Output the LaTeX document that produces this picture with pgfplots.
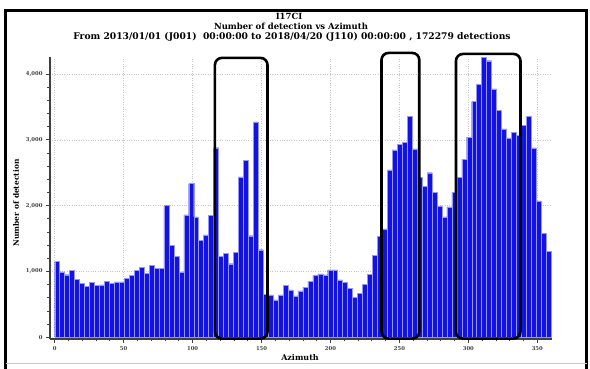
\documentclass[border=0pt]{standalone}
\usepackage{fontspec}
\setmainfont{DejaVu Serif}
\usepackage{pgfplots}
\pgfplotsset{compat=1.18}
\definecolor{barblue}{RGB}{18,18,226}
\definecolor{baredge}{RGB}{150,150,245}
\begin{document}
\begin{tikzpicture}
\useasboundingbox (0bp,0bp) rectangle (590bp,369bp);
\fill[white] (0bp,0bp) rectangle (590bp,369bp);
\draw[line width=2.8bp] (5.5bp,0bp) -- (5.5bp,358.5bp) -- (586.5bp,358.5bp) -- (586.5bp,0bp);
\draw[black!20, line width=0.6bp] (5.5bp,6bp) -- (586.5bp,6bp);
\begin{axis}[
  at={(50bp,30.1bp)}, anchor=south west,
  scale only axis, width=501.8bp, height=282bp,
  xmin=-3.4, xmax=360.5, ymin=-25, ymax=4260,
  axis x line*=bottom, axis y line*=left,
  axis line style={line width=1.3bp, draw=black!75},
  xtick={0,50,...,350}, minor x tick num=4,
  ytick={0,1000,2000,3000,4000}, minor y tick num=4,
  tick align=outside, major tick length=4bp, minor tick length=2.5bp,
  tick style={line width=0.8bp, black!75},
  grid=major, major grid style={dotted, black!22, line width=0.6bp},
  ticklabel style={font=\fontsize{5.3}{6}\selectfont\bfseries, text=black!75},
  /pgf/number format/assume math mode=true,
  /pgf/number format/1000 sep={,},
  scaled y ticks=false,
  clip=false,
  ybar, bar width=3.6,
]
\addplot[fill=barblue, draw=baredge, line width=0.35bp] coordinates {
(1.8,1150) (5.4,995) (9.0,950) (12.6,1015) (16.2,880) (19.8,815) (23.4,775) (27.0,835) (30.6,787) (34.2,795)
(37.8,850) (41.4,815) (45.0,840) (48.6,843) (52.2,900) (55.8,942) (59.4,1020) (63.0,1058) (66.6,970) (70.2,1090)
(73.8,1051) (77.4,1046) (81.0,2000) (84.6,1400) (88.2,1230) (91.8,995) (95.4,1860) (99.0,2335) (102.6,1830) (106.2,1470)
(109.8,1555) (113.4,1850) (117.0,2880) (120.6,1228) (124.2,1279) (127.8,1117) (131.4,1289) (135.0,2436) (138.6,2689) (142.2,1543)
(145.8,3273) (149.4,1330) (153.0,650) (156.6,645) (160.2,569) (163.8,645) (167.4,792) (171.0,721) (174.6,629) (178.2,706)
(181.8,761) (185.4,848) (189.0,939) (192.6,964) (196.2,949) (199.8,1025) (203.4,1025) (207.0,873) (210.6,832) (214.2,746)
(217.8,609) (221.4,670) (225.0,802) (228.6,959) (232.2,1244) (235.8,1533) (239.4,1645) (243.0,2545) (246.6,2848) (250.2,2929)
(253.8,2965) (257.4,3354) (261.0,2864) (264.6,2434) (268.2,2298) (271.8,2500) (275.4,2197) (279.0,1995) (282.6,1828) (286.2,1980)
(289.8,2200) (293.4,2434) (297.0,2702) (300.6,3040) (304.2,3581) (307.8,3848) (311.4,4253) (315.0,4202) (318.6,3773) (322.2,3444)
(325.8,3167) (329.4,3030) (333.0,3116) (336.6,3066) (340.2,3217) (343.8,3354) (347.4,2879) (351.0,2071) (354.6,1583) (358.2,1303)
};
\draw[line width=2.6bp, rounded corners=7bp] (axis cs:116.2,-20) rectangle (axis cs:154.3,4245);
\draw[line width=2.6bp, rounded corners=7bp] (axis cs:237.0,-20) rectangle (axis cs:264.4,4320);
\draw[line width=2.6bp, rounded corners=7bp] (axis cs:291.0,-20) rectangle (axis cs:337.8,4305);
\end{axis}
\node[font=\bfseries\fontsize{8.5}{9}\selectfont] at (289bp,353bp) {I17CI};
\node[font=\bfseries\fontsize{8.5}{9}\selectfont] at (291bp,343bp) {Number of detection vs Azimuth};
\node[font=\bfseries\fontsize{9.2}{10}\selectfont] at (292bp,332bp) {From 2013/01/01 (J001)\ \ 00:00:00 to 2018/04/20 (J110) 00:00:00 , 172279 detections};
\node[font=\bfseries\fontsize{8}{9}\selectfont] at (300bp,11bp) {Azimuth};
\node[font=\bfseries\fontsize{7.5}{9}\selectfont, rotate=90] at (16bp,166bp) {Number of detection};
\end{tikzpicture}
\end{document}
